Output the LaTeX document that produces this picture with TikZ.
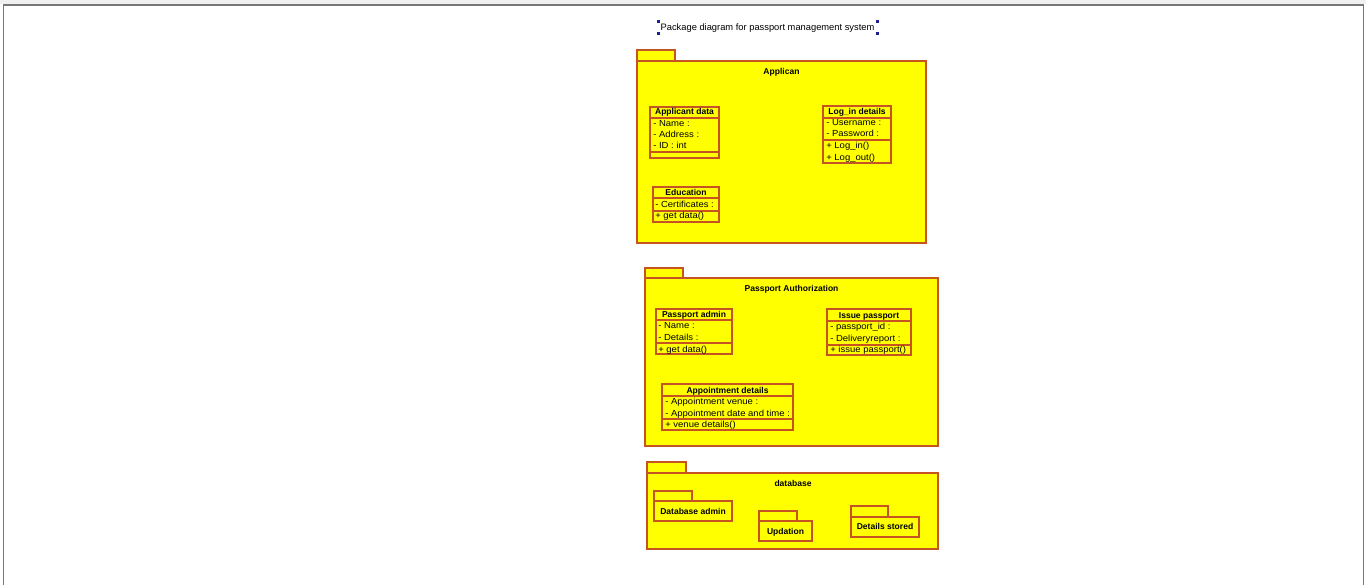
\documentclass[tikz,border=0pt]{standalone}
\usepackage{fontspec}
\setmainfont{Liberation Sans}
\newfontfamily\widesans{Liberation Sans}[FakeStretch=1.08]
\definecolor{umlred}{RGB}{198,84,34}
\definecolor{umlyellow}{RGB}{255,255,0}
\definecolor{handle}{RGB}{30,30,150}
\definecolor{frame}{RGB}{120,120,120}
\tikzset{pkg/.style = {draw=umlred, fill=umlyellow, line width=0.9pt}}
\tikzset{cls/.style = {draw=umlred, line width=0.9pt}}
\tikzset{clsname/.style = {font=\fontsize{6.4}{8}\selectfont\bfseries, inner sep=0pt, anchor=base}}
\tikzset{member/.style = {font=\widesans\fontsize{6.6}{8}\selectfont, inner sep=0pt, anchor=base west}}
\begin{document}
\begin{tikzpicture}[x=0.75pt, y=-0.75pt]
\useasboundingbox (0,0) rectangle (1366,585);
% window frame
\fill[gray!12] (0,0) rectangle (1366,4);
\draw[frame, line width=1.2pt] (3.5,585) -- (3.5,5) -- (1363.5,5) -- (1363.5,585);
% title
\node[inner sep=0pt, anchor=base, font=\fontsize{7}{8}\selectfont] (title) at (767.5,30.5) {Package diagram for passport management system};
\fill[handle] (656.5,20.5) rectangle (659.5,23.5);
\fill[handle] (656.5,32.5) rectangle (659.5,35.5);
\fill[handle] (875.5,20.5) rectangle (878.5,23.5);
\fill[handle] (875.5,32.5) rectangle (878.5,35.5);

% package Applican
\draw[pkg] (637,50) rectangle (675,61);
\draw[pkg] (637,61) rectangle (926,243);
\node[clsname] (applican) at (781.5,74.5) {Applican};

\draw[cls] (650,107) rectangle (719,158);
\draw[cls] (650,118) -- (719,118);
\draw[cls] (650,152) -- (719,152);
\node[clsname] (appdata) at (684.5,114.5) {Applicant data};
\node[member] (appname) at (653,126) {- Name :};
\node[member] (appaddr) at (653,137) {- Address :};
\node[member] (appid) at (653,148) {- ID : int};

\draw[cls] (823,106) rectangle (891,163);
\draw[cls] (823,118) -- (891,118);
\draw[cls] (823,140) -- (891,140);
\node[clsname] (login) at (857,114) {Log\_in details};
\node[member] (loguser) at (826,125.5) {- Username :};
\node[member] (logpass) at (826,136.5) {- Password :};
\node[member] (login) at (826,148) {+ Log\_in()};
\node[member] (logout) at (826,160) {+ Log\_out()};

\draw[cls] (653,187) rectangle (719,222);
\draw[cls] (653,198) -- (719,198);
\draw[cls] (653,211) -- (719,211);
\node[clsname] (edu) at (686,195) {Education};
\node[member] (educert) at (655,207) {- Certificates :};
\node[member] (eduget) at (655,218.5) {+ get data()};

% package Passport Authorization
\draw[pkg] (645,268) rectangle (683,278);
\draw[pkg] (645,278) rectangle (938,446);
\node[clsname] (auth) at (791.5,291) {Passport Authorization};

\draw[cls] (656,309) rectangle (732,354);
\draw[cls] (656,320) -- (732,320);
\draw[cls] (656,343) -- (732,343);
\node[clsname] (padmin) at (694,317) {Passport admin};
\node[member] (padname) at (658,328.5) {- Name :};
\node[member] (paddet) at (658,340.5) {- Details :};
\node[member] (padget) at (658,352) {+ get data()};

\draw[cls] (827,309) rectangle (911,355);
\draw[cls] (827,321) -- (911,321);
\draw[cls] (827,345) -- (911,345);
\node[clsname] (issue) at (869,318) {Issue passport};
\node[member] (issid) at (830,329.5) {- passport\_id :};
\node[member] (issrep) at (830,341.5) {- Deliveryreport :};
\node[member] (issop) at (830,352.5) {+ issue passport()};

\draw[cls] (662,384) rectangle (793,430);
\draw[cls] (662,396) -- (793,396);
\draw[cls] (662,419) -- (793,419);
\node[clsname] (appoint) at (727.5,393) {Appointment details};
\node[member] (appvenue) at (665,404.5) {- Appointment venue :};
\node[member] (apptime) at (665,416) {- Appointment date and time :};
\node[member] (appop) at (665,427) {+ venue details()};

% package database
\draw[pkg] (647,462) rectangle (686,473);
\draw[pkg] (647,473) rectangle (938,549);
\node[clsname] (db) at (793,486) {database};

\draw[pkg] (654,491) rectangle (692,501);
\draw[pkg] (654,501) rectangle (732,521);
\node[clsname] (dbadmin) at (693,514) {Database admin};

\draw[pkg] (759,511) rectangle (797,521);
\draw[pkg] (759,521) rectangle (812,541);
\node[clsname] (updation) at (785.5,534) {Updation};

\draw[pkg] (851,506) rectangle (888,517);
\draw[pkg] (851,517) rectangle (919,537);
\node[clsname] (stored) at (885,529.5) {Details stored};
\end{tikzpicture}
\end{document}
